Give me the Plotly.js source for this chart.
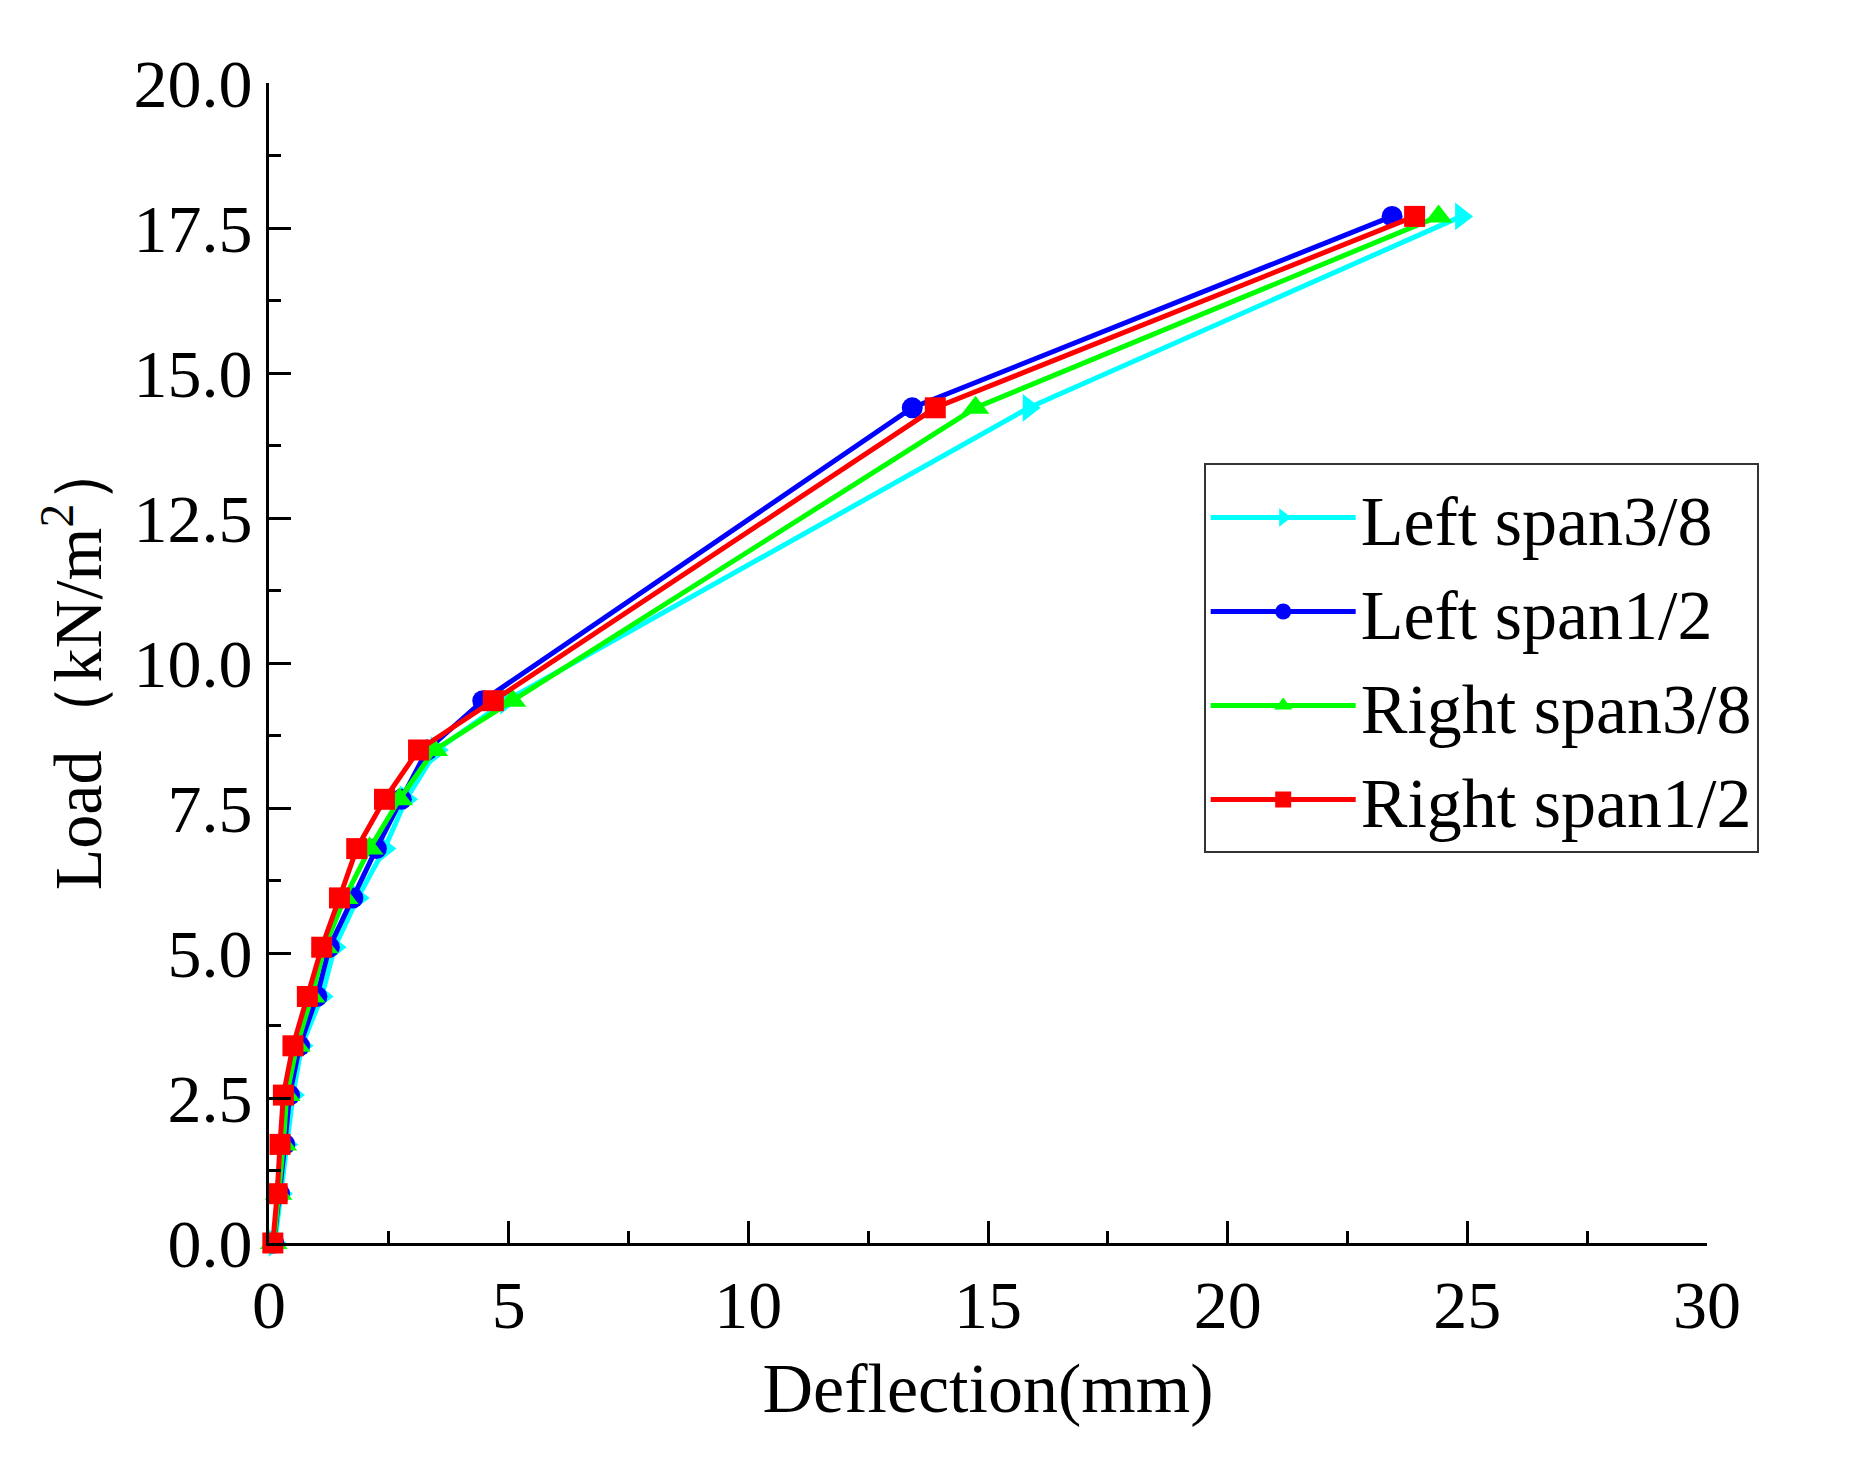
<!DOCTYPE html>
<html>
<head>
<meta charset="utf-8">
<script src="https://cdn.plot.ly/plotly-3.0.1.min.js"></script>
<style>
  html, body { margin: 0; padding: 0; background: #fff; }
  #chart { width: 1862px; height: 1477px; }
</style>
</head>
<body>
<div id="chart"></div>
<script>
// load steps (kN/m2), shared by all four gauges
const load_levels = [0, 0.85, 1.7, 2.55, 3.4, 4.25, 5.1, 5.95, 6.8, 7.65, 8.5, 9.35, 14.4, 17.7];

// deflection (mm)
const left_span_3_8  = [0.12, 0.25, 0.36, 0.50, 0.68, 1.10, 1.37, 1.85, 2.41, 2.86, 3.50, 4.95, 15.85, 24.87];
const left_span_1_2  = [0.10, 0.22, 0.33, 0.43, 0.64, 1.00, 1.26, 1.75, 2.24, 2.76, 3.30, 4.46, 13.42, 23.43];
const right_span_3_8 = [0.10, 0.20, 0.30, 0.37, 0.58, 0.89, 1.16, 1.58, 2.10, 2.72, 3.45, 5.08, 14.74, 24.40];
const right_span_1_2 = [0.08, 0.17, 0.23, 0.30, 0.50, 0.80, 1.10, 1.47, 1.83, 2.41, 3.12, 4.68, 13.90, 23.90];

const series_names = ["Left span3/8", "Left span1/2", "Right span3/8", "Right span1/2"];
const series_values = [left_span_3_8, left_span_1_2, right_span_3_8, right_span_1_2];
const series_colors = ["#00FFFF", "#0000FF", "#00FF00", "#FF0000"];
const series_symbols = ["triangle-right", "circle", "triangle-up", "square"];
const series_sizes = [24, 21, 24, 21];

const x_ticks = [0, 5, 10, 15, 20, 25, 30];
const y_ticks = [0, 2.5, 5, 7.5, 10, 12.5, 15, 17.5, 20];

const serif = "Liberation Serif, Times New Roman, serif";

function build_traces()
{
    return series_values.map((vals, i) => ({
        type: "scatter",
        mode: "lines+markers",
        name: series_names[i],
        x: vals,
        y: load_levels,
        cliponaxis: false,
        line: {color: series_colors[i], width: 5},
        marker: {color: series_colors[i], symbol: series_symbols[i], size: series_sizes[i]}
    }));
}

function axis_common()
{
    return {
        showline: true, linecolor: "#000", linewidth: 3,
        showgrid: false, zeroline: false,
        ticks: "inside", ticklen: 22, tickwidth: 3, tickcolor: "#000",
        tickfont: {family: serif, size: 68, color: "#000"},
        automargin: false
    };
}

const layout = {
    width: 1862, height: 1477,
    margin: {l: 269, r: 155, t: 83, b: 234},
    paper_bgcolor: "#fff", plot_bgcolor: "#fff",
    showlegend: true,
    legend: {
        x: 0.65, y: 0.672, xanchor: "left", yanchor: "top",
        bgcolor: "#fff", bordercolor: "#333", borderwidth: 2,
        font: {family: serif, size: 70, color: "#000"},
        itemwidth: 145
    },
    xaxis: Object.assign(axis_common(), {
        range: [0, 30], tickvals: x_ticks, ticktext: x_ticks.map(String),
        minor: {ticks: "inside", ticklen: 12, tickwidth: 3, tickcolor: "#000", dtick: 2.5, showgrid: false},
        title: {text: "Deflection(mm)", font: {family: serif, size: 70, color: "#000"}, standoff: 22}
    }),
    yaxis: Object.assign(axis_common(), {
        range: [0, 20], tickvals: y_ticks, ticktext: y_ticks.map((v) => v.toFixed(1)),
        minor: {ticks: "inside", ticklen: 12, tickwidth: 3, tickcolor: "#000", dtick: 1.25, showgrid: false},
        title: {text: "Load（kN/m<sup>2</sup>）", font: {family: serif, size: 68, color: "#000"}, standoff: 10}
    })
};

Plotly.newPlot("chart", build_traces(), layout, {staticPlot: true});
</script>
</body>
</html>
